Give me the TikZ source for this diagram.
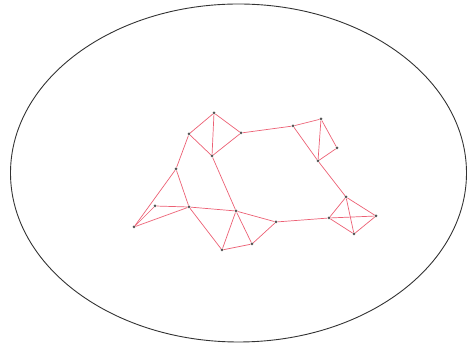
\documentclass[tikz,border=0pt]{standalone}
\usepackage{tikz}

\definecolor{edgered}{RGB}{236,96,116}
\definecolor{dotgray}{RGB}{85,85,85}

\tikzset{
  vtx/.style={circle,fill=dotgray,inner sep=0pt,minimum size=3pt},
  edg/.style={draw=edgered,line width=0.7pt}
}

\begin{document}
\begin{tikzpicture}[x=1pt,y=-1pt]
  \useasboundingbox (0,0) rectangle (467,344);

  % outer region
  \draw[black!80,line width=0.9pt] (238.5,173) ellipse (228pt and 169pt);

  % vertices
  \node[vtx] (a) at (214,113) {};
  \node[vtx] (b) at (189,134) {};
  \node[vtx] (c) at (241,133) {};
  \node[vtx] (d) at (212,156) {};
  \node[vtx] (e) at (176,169) {};
  \node[vtx] (f) at (155,206) {};
  \node[vtx] (g) at (189,207) {};
  \node[vtx] (h) at (134,227) {};
  \node[vtx] (i) at (236,211) {};
  \node[vtx] (j) at (222,250) {};
  \node[vtx] (k) at (252,244) {};
  \node[vtx] (t) at (276,222) {};
  \node[vtx] (l) at (293,126) {};
  \node[vtx] (m) at (321,119) {};
  \node[vtx] (n) at (337,148) {};
  \node[vtx] (o) at (318,161) {};
  \node[vtx] (p) at (346,197) {};
  \node[vtx] (q) at (376,216) {};
  \node[vtx] (r) at (329,218) {};
  \node[vtx] (s) at (354,234) {};

  % edges
  \draw[edg] (a) -- (b);
  \draw[edg] (a) -- (c);
  \draw[edg] (a) -- (d);
  \draw[edg] (b) -- (d);
  \draw[edg] (c) -- (d);
  \draw[edg] (b) -- (e);
  \draw[edg] (c) -- (l);
  \draw[edg] (l) -- (m);
  \draw[edg] (l) -- (o);
  \draw[edg] (m) -- (o);
  \draw[edg] (m) -- (n);
  \draw[edg] (n) -- (o);
  \draw[edg] (o) -- (p);
  \draw[edg] (d) -- (i);
  \draw[edg] (e) -- (h);
  \draw[edg] (e) -- (g);
  \draw[edg] (h) -- (f);
  \draw[edg] (h) -- (g);
  \draw[edg] (f) -- (g);
  \draw[edg] (g) -- (i);
  \draw[edg] (g) -- (j);
  \draw[edg] (i) -- (j);
  \draw[edg] (i) -- (k);
  \draw[edg] (i) -- (t);
  \draw[edg] (j) -- (k);
  \draw[edg] (k) -- (t);
  \draw[edg] (t) -- (r);
  \draw[edg] (r) -- (p);
  \draw[edg] (r) -- (q);
  \draw[edg] (r) -- (s);
  \draw[edg] (p) -- (q);
  \draw[edg] (p) -- (s);
  \draw[edg] (s) -- (q);

\end{tikzpicture}
\end{document}
